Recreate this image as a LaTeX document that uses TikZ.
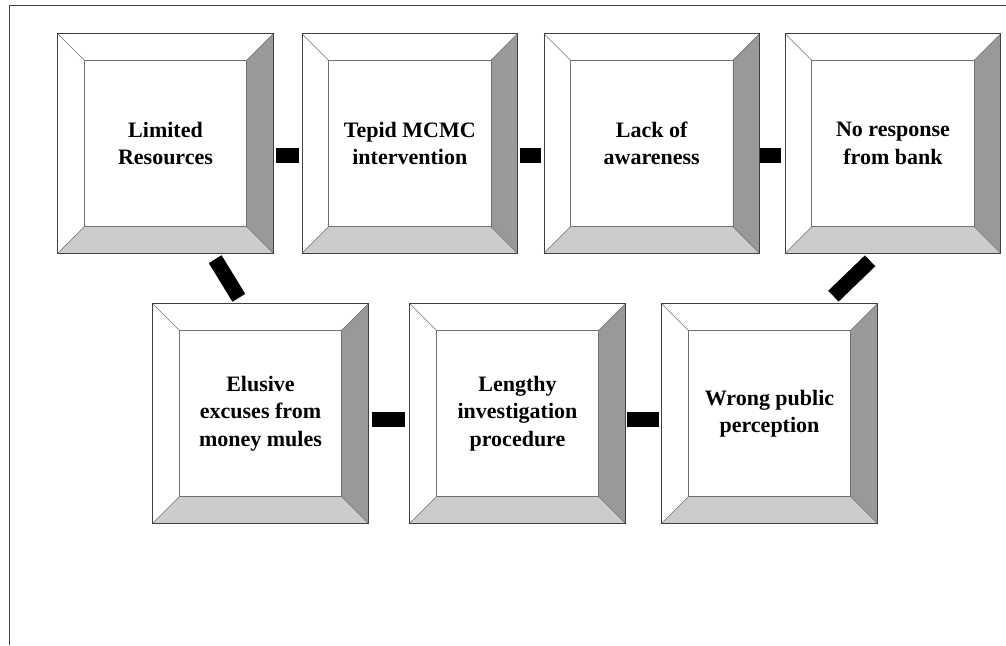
\documentclass[tikz,border=0pt]{standalone}
\usepackage{fontspec}
\setmainfont{Liberation Serif}
\usetikzlibrary{calc}
\definecolor{rightgray}{HTML}{999999}
\definecolor{bottomgray}{HTML}{CCCCCC}
\definecolor{edgegray}{HTML}{404040}
\definecolor{innergray}{HTML}{707070}
\begin{document}
\begin{tikzpicture}[x=1pt,y=1pt,
  bevelbox/.style={rectangle, minimum width=215pt, minimum height=219pt, inner sep=0pt,
    align=center, font=\bfseries\fontsize{22}{27.5}\selectfont},
  bar/.style={line width=15pt, line cap=butt, black},
  framerule/.style={draw=edgegray, line width=1pt}]
\useasboundingbox (0,0) rectangle (1006,645);
\draw[framerule] (9,0) -- (9,639) -- (1006,639);

\node[bevelbox] (b1) at (165.5,501.5) {Limited\\Resources};
\node[bevelbox] (b2) at (409.8,501.5) {Tepid MCMC\\intervention};
\node[bevelbox] (b3) at (651.7,501.5) {Lack of\\awareness};
\node[bevelbox] (b4) at (893,501.5) {No response\\from bank};
\node[bevelbox] (b5) at (260.5,231.5) {Elusive\\excuses from\\money mules};
\node[bevelbox] (b6) at (517.5,231.5) {Lengthy\\investigation\\procedure};
\node[bevelbox] (b7) at (769.5,231.5) {Wrong public\\perception};

\foreach \n in {b1,b2,b3,b4,b5,b6,b7}{
  \coordinate (NW) at (\n.north west);
  \coordinate (NE) at (\n.north east);
  \coordinate (SE) at (\n.south east);
  \coordinate (SW) at (\n.south west);
  \coordinate (nw) at ($(NW)+(26.5,-26.5)$);
  \coordinate (ne) at ($(NE)+(-26.5,-26.5)$);
  \coordinate (se) at ($(SE)+(-26.5,26.5)$);
  \coordinate (sw) at ($(SW)+(26.5,26.5)$);
  \fill[white] (NW) -- (NE) -- (ne) -- (nw) -- cycle;
  \fill[white] (NW) -- (nw) -- (sw) -- (SW) -- cycle;
  \fill[rightgray] (NE) -- (SE) -- (se) -- (ne) -- cycle;
  \fill[bottomgray] (SW) -- (sw) -- (se) -- (SE) -- cycle;
  \draw[innergray, line width=0.8pt] (nw) rectangle (se);
  \draw[innergray, line width=0.6pt] (NW) -- (nw) (NE) -- (ne) (SE) -- (se) (SW) -- (sw);
  \draw[edgegray, line width=1pt] (NW) rectangle (SE);
}

\draw[bar, shorten <=3pt, shorten >=3pt] ($(b1.east)+(0,-12)$) -- ($(b2.west)+(0,-12)$);
\draw[bar, shorten <=2pt, shorten >=3pt] ($(b2.east)+(0,-12)$) -- ($(b3.west)+(0,-12)$);
\draw[bar, shorten <=0.5pt, shorten >=4pt] ($(b3.east)+(0,-12)$) -- ($(b4.west)+(0,-12)$);
\draw[bar, shorten <=4pt, shorten >=5pt] ($(b5.east)+(0,-6)$) -- ($(b6.west)+(0,-6)$);
\draw[bar, shorten <=2pt, shorten >=3pt] ($(b6.east)+(0,-6)$) -- ($(b7.west)+(0,-6)$);
\draw[bar, shorten <=7pt, shorten >=7pt] ($(b1.south)+(46,0)$) -- ($(b5.north)+(-18,0)$);
\draw[bar, shorten <=11pt, shorten >=11pt] ($(b4.south)+(-15,0)$) -- ($(b7.north)+(56,0)$);
\end{tikzpicture}
\end{document}
